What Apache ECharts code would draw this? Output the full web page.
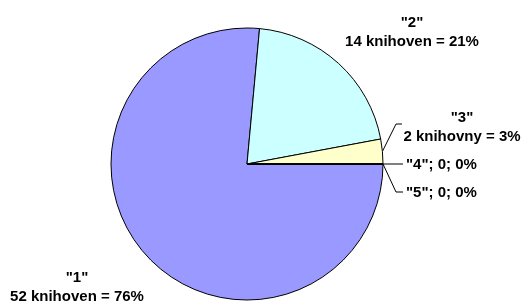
<!DOCTYPE html>
<html>
<head>
<meta charset="utf-8">
<script src="https://cdn.jsdelivr.net/npm/echarts@6/dist/echarts.min.js"></script>
<style>
  html, body { margin: 0; padding: 0; background: #fff; }
  #box { width: 524px; height: 305px; }
</style>
</head>
<body>
<div id="box"></div>
<script>
  // data
  const categories = ["1", "2", "3", "4", "5"];
  const values = [52, 14, 2, 0, 0];
  const units = ["knihoven", "knihoven", "knihovny", "", ""];
  const colors = ["#9999ff", "#ccffff", "#ffffcc", "#ffffff", "#ffffff"];

  // label placement (x, y, align) per slice
  const labelPos = [
    { x: 77, y: 287, align: "center" },
    { x: 412, y: 32, align: "center" },
    { x: 462, y: 127, align: "center" },
    { x: 406, y: 165, align: "left" },
    { x: 406, y: 193, align: "left" },
  ];
  // leader line bends for the small slices
  const bends = [null, null, [[396, 124], [402, 124]], [[403, 164]], [[396, 192], [403, 192]]];

  let option = {
    animation: false,
    series: [
      {
        type: "pie",
        center: [247, 164],
        radius: 136,
        startAngle: 0,
        clockwise: true,
        percentPrecision: 0,
        itemStyle: {
          borderColor: "#000",
          borderWidth: 1,
        },
        emphasis: { disabled: true },
        label: {
          show: true,
          color: "#000",
          fontFamily: "Arial, 'Liberation Sans', sans-serif",
          fontWeight: "bold",
          fontSize: 15,
          lineHeight: 19,
          overflow: "none",
          formatter: function (p) {
            if (p.value === 0) {
              return '"' + p.name + '"; 0; ' + p.percent + "%";
            }
            return '"' + p.name + '"\n' + p.value + " " + units[p.dataIndex] + " = " + p.percent + "%";
          },
        },
        labelLine: {
          show: true,
          lineStyle: { color: "#000", width: 1 },
        },
        labelLayout: function (params) {
          let i = params.dataIndex;
          let pos = labelPos[i];
          let res = {
            x: pos.x,
            y: pos.y,
            width: 200,
            align: pos.align,
            verticalAlign: "middle",
          };
          if (bends[i] && params.labelLinePoints) {
            res.labelLinePoints = [params.labelLinePoints[0]].concat(bends[i]);
          }
          return res;
        },
        data: categories.map(function (name, i) {
          return {
            name: name,
            value: values[i],
            itemStyle: { color: colors[i] },
            labelLine: { show: i >= 2 },
          };
        }),
      },
    ],
  };

  let myChart = echarts.init(document.getElementById("box"));
  myChart.setOption(option);
</script>
</body>
</html>
